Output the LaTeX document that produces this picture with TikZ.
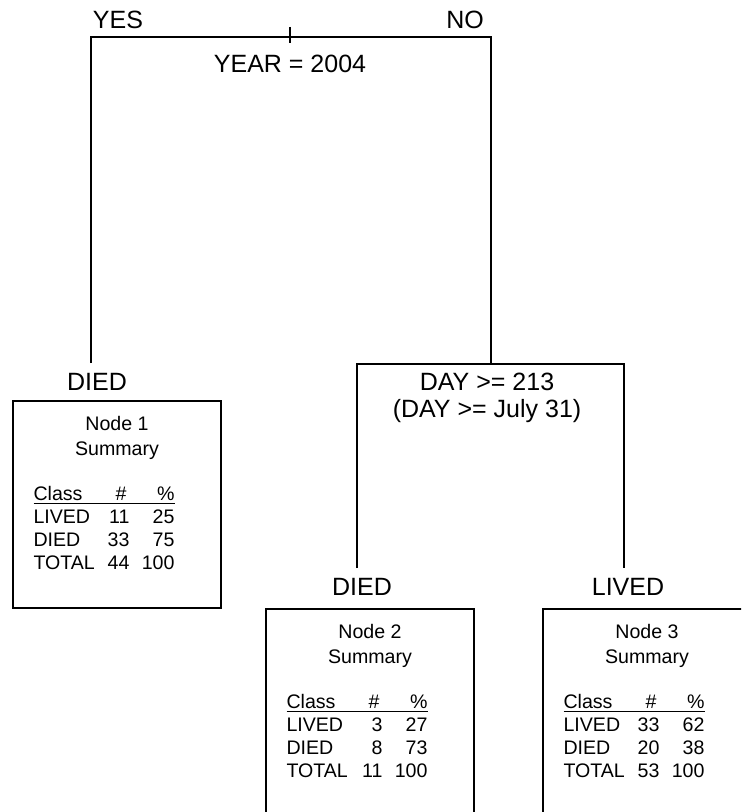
\documentclass[tikz,border=0pt]{standalone}
\usepackage{fontspec}
\setmainfont{Liberation Sans}
\usetikzlibrary{positioning}

\newcommand{\sumrow}[3]{\makebox[83.5pt][l]{\makebox[35pt][l]{#1}\makebox[13pt][r]{#2}\makebox[22.5pt][r]{#3}}}
\newcommand{\sumhead}{\rlap{\rule[-1.6pt]{70.5pt}{0.6pt}}\sumrow{Class}{\#\hspace{1.5pt}}{\%}}

\begin{document}
\begin{tikzpicture}[x=0.5pt, y=-0.5pt,
    branch/.style={font=\fontsize{12.5}{12.5}\selectfont, inner sep=0pt},
    leafbox/.style={draw, line width=1pt, minimum width=104pt, anchor=north west, inner sep=0pt},
    summary/.style={font=\fontsize{9.8}{11.5}\selectfont, align=center, inner sep=0pt},
    split/.style={line width=0.8pt}]
    \useasboundingbox (0,0) rectangle (741,812);
    \clip (0,0) rectangle (741,812);
    % first split
    \node[branch] (yes) at (118,20) {YES};
    \node[branch] (no) at (465,20) {NO};
    \node[branch] (year) at (290,64) {YEAR = 2004};
    \coordinate (top) at (290,27);
    \coordinate (tick) at (290,43);
    \coordinate (l1) at (91,363);
    \coordinate (r1) at (491,37);
    % second split
    \node[branch, anchor=north, align=center] (day) at (487,373) {DAY >= 213\\[1pt](DAY >= July 31)};
    \coordinate (l2) at (357,568);
    \coordinate (r2) at (624,364);
    % leaves
    \node[branch] (died1) at (97,382) {DIED};
    \node[branch] (died2) at (362,587) {DIED};
    \node[branch] (lived3) at (628,587) {LIVED};
    \node[leafbox, minimum height=103.5pt] (n1) at (12,400) {};
    \node[leafbox, minimum height=115pt] (n2) at (265,608) {};
    \node[leafbox, minimum height=115pt] (n3) at (542,608) {};
    \node[summary, below=8pt of n1.north] (s1) {Node 1\\[1pt]Summary\\[11pt]\sumhead\\\sumrow{LIVED}{11}{25}\\\sumrow{DIED}{33}{75}\\\sumrow{TOTAL}{44}{100}};
    \node[summary, below=8pt of n2.north] (s2) {Node 2\\[1pt]Summary\\[11pt]\sumhead\\\sumrow{LIVED}{3}{27}\\\sumrow{DIED}{8}{73}\\\sumrow{TOTAL}{11}{100}};
    \node[summary, below=8pt of n3.north] (s3) {Node 3\\[1pt]Summary\\[11pt]\sumhead\\\sumrow{LIVED}{33}{62}\\\sumrow{DIED}{20}{38}\\\sumrow{TOTAL}{53}{100}};
    % connectors
    \draw[split] (top) -- (tick);
    \draw[split] (l1) |- (r1) -- (r1 |- r2);
    \draw[split] (l2) |- (r2) -- (r2 |- l2);
\end{tikzpicture}
\end{document}
